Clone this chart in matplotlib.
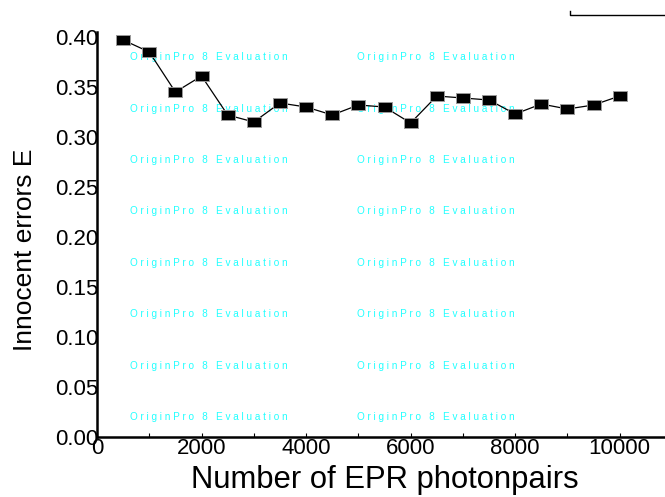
import matplotlib
matplotlib.use('Agg')
import matplotlib.pyplot as plt
from matplotlib.lines import Line2D
from matplotlib.path import Path
from matplotlib.ticker import MultipleLocator

plt.rcParams['font.family'] = ['Liberation Sans', 'DejaVu Sans']

# data
photon_pairs = [500, 1000, 1500, 2000, 2500, 3000, 3500, 4000, 4500, 5000,
                5500, 6000, 6500, 7000, 7500, 8000, 8500, 9000, 9500, 10000]
innocent_errors = [0.397, 0.385, 0.345, 0.361, 0.322, 0.315, 0.334, 0.330, 0.322, 0.332,
                   0.330, 0.314, 0.341, 0.339, 0.337, 0.323, 0.333, 0.328, 0.332, 0.341]

x_ticks = [0, 2000, 4000, 6000, 8000, 10000]
y_ticks = [0.00, 0.05, 0.10, 0.15, 0.20, 0.25, 0.30, 0.35, 0.40]

fig = plt.figure(figsize=(6.65, 4.97), dpi=100)
W, H = 665, 497
# axes runs a little past the right edge, like the cropped original
ax = fig.add_axes([97 / W, 60 / H, (672 - 97) / W, (437 - 32) / H])

# watermark rows
wm = 'O r i g i n P r o   8   E v a l u a t i o n'
for row in range(8):
    yy = 1 - (57.3 + row * 51.4 - 32) / 405
    for xx in [130, 357]:
        ax.text((xx - 97) / 575, yy, wm, transform=ax.transAxes, color='#22ffff',
                fontsize=7.2, va='center', ha='left', zorder=1)

# slightly wide square, as in the original export
wide_square = Path([(-1.35, -1), (1.35, -1), (1.35, 1), (-1.35, 1), (-1.35, -1)],
                   [Path.MOVETO, Path.LINETO, Path.LINETO, Path.LINETO, Path.CLOSEPOLY])
ax.plot(photon_pairs, innocent_errors, color='black', lw=0.9, marker=wide_square,
        markersize=10.4, markerfacecolor='black', markeredgecolor='#999999',
        markeredgewidth=0.7, zorder=3)

ax.set_xlim(0, 11000)
ax.set_ylim(0, 0.405)
ax.set_xticks(x_ticks)
ax.set_yticks(y_ticks)
ax.set_yticklabels([f'{v:.2f}' for v in y_ticks])
ax.xaxis.set_minor_locator(MultipleLocator(1000))
ax.tick_params(axis='x', direction='in', length=3, width=0.8, labelsize=16, pad=1)
ax.tick_params(axis='x', which='minor', direction='in', length=3, width=0.8)
ax.tick_params(axis='y', length=0, labelsize=16, pad=-1)

for s in ['top', 'right']:
    ax.spines[s].set_visible(False)
for s in ['left', 'bottom']:
    ax.spines[s].set_linewidth(1.8)

ax.set_xlabel('Number of EPR photonpairs', fontsize=22.3, labelpad=4)
ax.set_ylabel('Innocent errors E', fontsize=19)
ax.yaxis.set_label_coords(-0.105, 1 - (250 - 32) / 405)

# stray frame fragment at top right
fig.add_artist(Line2D([570 / W, 570 / W, 1.0], [1 - 11 / H, 1 - 15 / H, 1 - 15 / H],
                      transform=fig.transFigure, color='black', lw=1))

fig.savefig('out.png', dpi=100)
